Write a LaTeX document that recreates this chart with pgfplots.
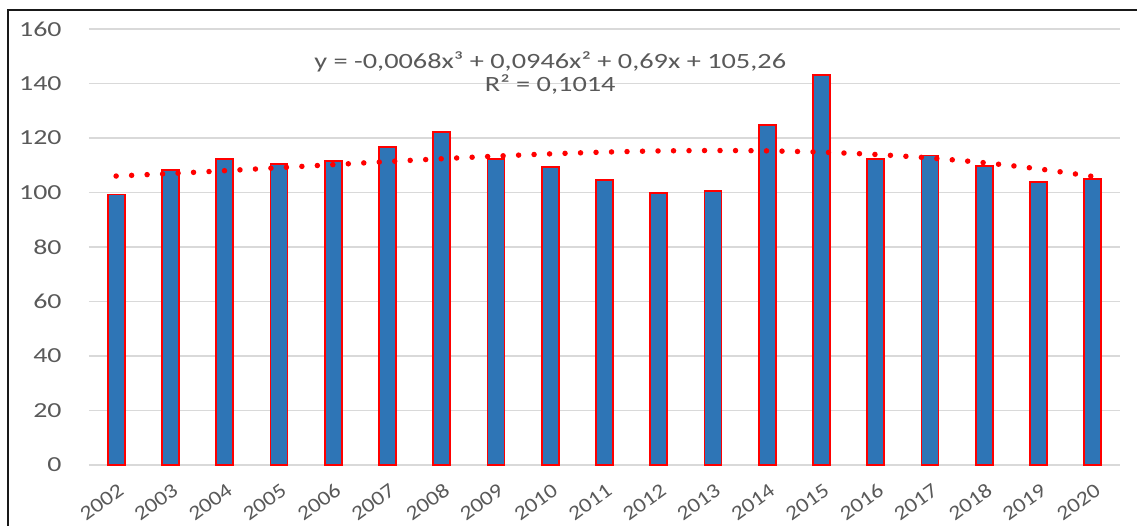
\documentclass[border=0pt]{standalone}
\usepackage{fontspec}
\setmainfont[FakeStretch=1.3]{Carlito}
\newfontfamily\xfont[FakeStretch=1.16]{Carlito}
\usepackage{pgfplots}
\pgfplotsset{compat=1.18}
\definecolor{barblue}{HTML}{2E75B6}
\definecolor{txtgray}{HTML}{595959}
\definecolor{gridgray}{HTML}{D9D9D9}
\begin{document}
\begin{tikzpicture}[x=1mm,y=1mm]
\useasboundingbox (0,0) rectangle (113.7,52.5);
\draw[line width=0.28mm,black!90] (0.8,-1) -- (0.8,51.5) -- (114,51.5);
\begin{axis}[
  at={(8.9mm,6.0mm)}, anchor=south west,
  scale only axis, width=103.1mm, height=43.6mm,
  xmin=-0.5, xmax=18.5, ymin=0, ymax=160,
  ytick={0,20,...,160},
  xtick={0,...,18},
  xticklabels={2002,2003,2004,2005,2006,2007,2008,2009,2010,2011,2012,2013,2014,2015,2016,2017,2018,2019,2020},
  axis line style={draw=none},
  major tick length=0pt,
  ymajorgrids, grid style={gridgray, line width=0.12mm},
  tick label style={font=\fontsize{6.1}{7}\selectfont, text=txtgray},
  xticklabel style={font=\xfont\fontsize{5.8}{6}\selectfont, xshift=0.15mm, yshift=-1.5mm, rotate=36, anchor=north east, inner sep=0.3pt},
  yticklabel style={xshift=-1.5mm},
  /pgf/number format/assume math mode=true,
  clip=false,
]
\addplot[ybar, bar shift=0pt, bar width=1.7mm, fill=barblue, draw=red, line width=0.18mm] coordinates {
(0,99.3) (1,108.3) (2,112.3) (3,110.5) (4,111.7) (5,116.6) (6,122.2) (7,112.3) (8,109.3)
(9,104.6) (10,99.7) (11,100.5) (12,124.8) (13,143.2) (14,112.4) (15,113.6) (16,109.7) (17,103.9) (18,105.0)};
\addplot[red, line width=0.55mm, line cap=round, dash pattern=on 0pt off 1.55mm, smooth, mark=none] coordinates {
(0,106.04) (1,106.96) (2,108.00) (3,109.10) (4,110.23) (5,111.34) (6,112.39) (7,113.35) (8,114.18)
(9,114.82) (10,115.25) (11,115.41) (12,115.28) (13,114.80) (14,113.95) (15,112.67) (16,110.92) (17,108.67) (18,105.88)};
\node[font=\fontsize{6.2}{7}\selectfont, text=txtgray] at (axis cs:8,148) {y = -0,0068x³ + 0,0946x² + 0,69x + 105,26};
\node[font=\fontsize{6.2}{7}\selectfont, text=txtgray] at (axis cs:8,139.5) {R² = 0,1014};
\end{axis}
\end{tikzpicture}
\end{document}
